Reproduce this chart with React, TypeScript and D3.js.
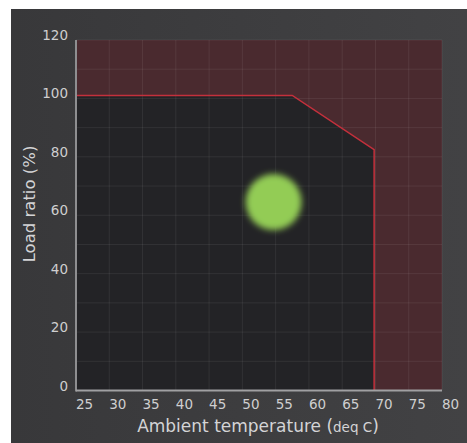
import React from "react";
import * as d3 from "d3";

const xTicks = [25, 30, 35, 40, 45, 50, 55, 60, 65, 70, 75, 80];
const yTicks = [0, 20, 40, 60, 80, 100, 120];
const yGrid = [0, 10, 20, 30, 40, 50, 60, 70, 80, 90, 100, 110, 120];
const boundaryX = [25, 57.5, 69.8, 69.8];
const boundaryY = [101, 101, 82.5, 0];
const pointX = [54.7];
const pointY = [64.5];

const W = 467;
const H = 443;
const left = 76, right = 442, top = 40, bottom = 390.5;

export default function App() {
  const x = d3.scaleLinear().domain([25, 80]).range([left, right]);
  const y = d3.scaleLinear().domain([0, 120]).range([bottom, top]);
  const boundary = boundaryX.map((v, i) => [v, boundaryY[i]] as [number, number]);
  const lineGen = d3.line<[number, number]>().x(d => x(d[0])).y(d => y(d[1]));
  const poly = [[25, 0] as [number, number], ...boundary];
  const font = "'DejaVu Sans', Verdana, sans-serif";
  return (
    <svg width={W} height={H} style={{ position: "absolute", left: 0, top: 0 }}>
      <defs>
        <linearGradient id="bg" x1="0" x2="1" y1="0" y2="0">
          <stop offset="0" stopColor="#38383a" />
          <stop offset="1" stopColor="#424244" />
        </linearGradient>
        <filter id="blur" x="-50%" y="-50%" width="200%" height="200%">
          <feGaussianBlur stdDeviation="3" />
        </filter>
      </defs>
      <rect x={11} y={9} width={456} height={434} fill="url(#bg)" />
      <rect x={left} y={top} width={right - left} height={bottom - top} fill="#4a2a2f" />
      <path d={lineGen(poly) + "Z"} fill="#232326" />
      {xTicks.map(t => (
        <line key={"gx" + t} x1={x(t)} x2={x(t)} y1={top} y2={bottom} stroke="#ffffff" strokeOpacity={0.07} />
      ))}
      {yGrid.map(t => (
        <line key={"gy" + t} x1={left} x2={right} y1={y(t)} y2={y(t)} stroke="#ffffff" strokeOpacity={0.07} />
      ))}
      <path d={lineGen(boundary) || ""} fill="none" stroke="#c4303c" strokeWidth={1.5} />
      <line x1={left} x2={left} y1={top} y2={bottom + 1} stroke="#8e8e90" strokeWidth={2} />
      <line x1={left} x2={right} y1={bottom} y2={bottom} stroke="#a0a0a2" strokeWidth={2} />
      {pointX.map((px, i) => (
        <circle key={"p" + i} cx={x(px)} cy={y(pointY[i])} r={28} fill="#93cc55" filter="url(#blur)" />
      ))}
      {xTicks.map(t => (
        <text key={"xl" + t} x={x(t)} y={409} fill="#cfcfd0" fontSize={13.5} fontFamily={font} textAnchor="start">{t}</text>
      ))}
      {yTicks.map(t => (
        <text key={"yl" + t} x={68} y={y(t) - 4} fill="#cfcfd0" fontSize={13.5} fontFamily={font} textAnchor="end" dominantBaseline="middle">{t}</text>
      ))}
      <text x={258} y={432} fill="#d4d4d6" fontSize={17} fontFamily={font} textAnchor="middle">
        Ambient temperature (<tspan fontSize={13.5}>deq C</tspan>)
      </text>
      <text transform="translate(35,204) rotate(-90)" fill="#d4d4d6" fontSize={16.5} fontFamily={font} textAnchor="middle">
        Load ratio (%)
      </text>
    </svg>
  );
}
